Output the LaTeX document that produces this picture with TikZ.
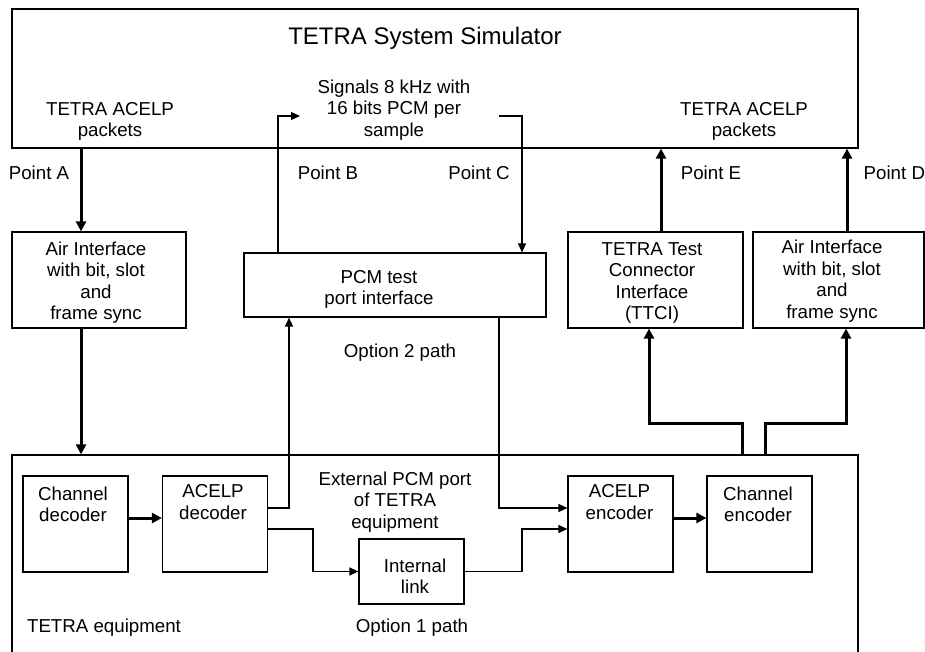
\documentclass[tikz,border=0pt]{standalone}
\usepackage{fontspec}
\setmainfont{Liberation Sans}
\usetikzlibrary{arrows.meta}

\begin{document}
\begin{tikzpicture}[x=1pt,y=-1pt,
  every node/.style={font=\fontsize{18.7}{21.5}\selectfont},
  txt/.style={align=center,inner sep=0pt},
  frame/.style={draw,line width=1.3pt,inner sep=0pt},
  blk/.style={draw,line width=1.2pt,inner sep=0pt,minimum width=105pt,minimum height=96pt},
  thin arr/.style={line width=1.3pt,-{Triangle[length=9pt,width=8pt]}},
  thick arr/.style={line width=3pt,-{Triangle[length=10pt,width=10pt]}}]
  \useasboundingbox (0,0) rectangle (925,652);
  \clip (0,0) rectangle (925,652);

  % simulator
  \node[frame,minimum width=846pt,minimum height=139pt] (sim) at (435,78.5) {};
  \node[txt,font=\fontsize{24}{28}\selectfont] (title) at (425,38) {TETRA System Simulator};
  \node[txt] (pktL) at (110,121.5) {TETRA ACELP\\packets};
  \node[txt] (sig) at (394,110) {Signals 8 kHz with\\16 bits PCM per\\sample};
  \node[txt] (pktR) at (744,121.5) {TETRA ACELP\\packets};

  \node[txt] (lblA) at (39,173) {Point A};
  \node[txt] (lblB) at (328,173) {Point B};
  \node[txt] (lblC) at (479,173) {Point C};
  \node[txt] (lblE) at (711,173) {Point E};
  \node[txt,anchor=west] (lblD) at (863.5,173) {Point D};

  % middle row
  \node[frame,line width=1.2pt,minimum width=174pt,minimum height=96pt] (airL) at (99,280) {};
  \node[txt] (airLT) at (96,282.5) {Air Interface\\with bit, slot\\and\\frame sync};
  \node[frame,line width=1.2pt,minimum width=302pt,minimum height=64pt] (pcm) at (395,285) {};
  \node[txt] (pcmT) at (379,289.5) {PCM test\\port interface};
  \node[frame,line width=1.2pt,minimum width=175pt,minimum height=96pt] (ttci) at (655.5,280) {};
  \node[txt] (ttciT) at (652,283) {TETRA Test\\Connector\\Interface\\(TTCI)};
  \node[frame,line width=1.2pt,minimum width=171pt,minimum height=96pt] (airR) at (838.5,280) {};
  \node[txt] (airRT) at (832,281) {Air Interface\\with bit, slot\\and\\frame sync};
  \node[txt] (opt2) at (400,353) {Option 2 path};

  % equipment
  \node[frame,minimum width=846pt,minimum height=205pt] (equip) at (435,557.5) {};
  \node[blk,line width=2pt] (chdec) at (75.5,524) {};
  \node[txt] (chdecT) at (73,504.5) {Channel\\decoder};
  \node[blk] (acdec) at (215,524) {};
  \node[txt] (acdecT) at (213,502) {ACELP\\decoder};
  \node[txt] (ext) at (395,502) {External PCM port\\of TETRA\\equipment};
  \node[blk,minimum height=65pt] (link) at (411.5,571.5) {};
  \node[txt] (linkT) at (415,576) {Internal\\link};
  \node[blk] (acenc) at (620.5,524) {};
  \node[txt] (acencT) at (619.5,502) {ACELP\\encoder};
  \node[blk] (chenc) at (759.5,524) {};
  \node[txt] (chencT) at (758,504.5) {Channel\\encoder};
  \node[txt] (equipT) at (104,628) {TETRA equipment};
  \node[txt] (opt1) at (412,628) {Option 1 path};

  \coordinate (ptA) at (81,0);
  \coordinate (ptB) at (278,116);
  \coordinate (sigL) at (300,116);
  \coordinate (sigR) at (499,116);
  \coordinate (ptC) at (522,116);
  \coordinate (ptE) at (661,0);
  \coordinate (ptD) at (847,0);
  \coordinate (dout1) at (289,508);
  \coordinate (dout2) at (313,529);
  \coordinate (cin1) at (499,508);
  \coordinate (cin2) at (522,529);
  \coordinate (mid) at (0,518);
  \coordinate (busL) at (742,423);
  \coordinate (busR) at (765,423);
  \coordinate (ttIn) at (649,423);
  \coordinate (airIn) at (846,423);

  \draw[thick arr] (sim.south -| ptA) -- (airL.north -| ptA);
  \draw[thick arr] (airL.south -| ptA) -- (equip.north -| ptA);
  \draw[thin arr] (pcm.north -| ptB) -- (ptB) -- (sigL);
  \draw[thin arr] (sigR) -- (ptC) -- (pcm.north -| ptC);
  \draw[thick arr] (ttci.north -| ptE) -- (sim.south -| ptE);
  \draw[thick arr] (airR.north -| ptD) -- (sim.south -| ptD);

  \draw[thin arr] (acdec.east |- dout1) -- (dout1) -- (pcm.south -| dout1);
  \draw[thin arr] (pcm.south -| cin1) -- (cin1) -- (acenc.west |- cin1);
  \draw[thin arr] (acdec.east |- dout2) -- (dout2) |- (link.west);
  \draw[thin arr] (link.east) -| (cin2) -- (acenc.west |- cin2);
  \draw[thick arr] (chdec.east |- mid) -- (acdec.west |- mid);
  \draw[thick arr] (acenc.east |- mid) -- (chenc.west |- mid);

  \draw[thick arr] (equip.north -| busL) -- (busL) -- (ttIn) -- (ttci.south -| ttIn);
  \draw[thick arr] (equip.north -| busR) -- (busR) -- (airIn) -- (airR.south -| airIn);
\end{tikzpicture}
\end{document}
